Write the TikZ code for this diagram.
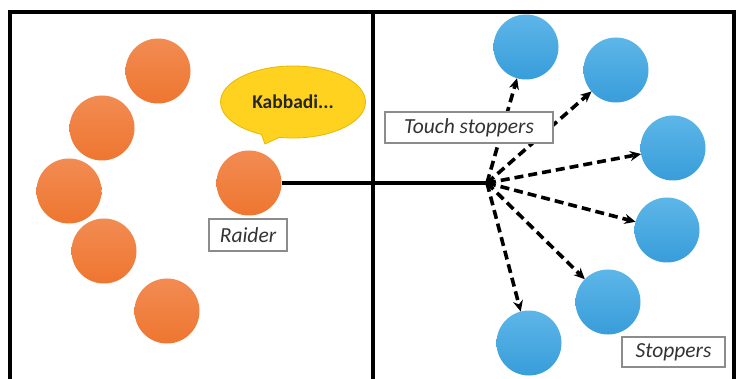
\documentclass[tikz,border=0pt]{standalone}
\usepackage{fontspec}
\setmainfont{Carlito}
\usetikzlibrary{arrows.meta,shapes.callouts,shapes.geometric}
\definecolor{orTop}{HTML}{F28B52}
\definecolor{orBot}{HTML}{EE7630}
\definecolor{blTop}{HTML}{5DB6E8}
\definecolor{blBot}{HTML}{389DDA}
\definecolor{bubble}{HTML}{FFD21F}
\definecolor{bubbleEdge}{HTML}{E8B800}
\definecolor{boxEdge}{HTML}{8C8C8C}
\begin{document}
\begin{tikzpicture}[x=1pt,y=-1pt,
  raiderball/.style={circle,minimum size=65pt,inner sep=0pt,outer sep=0pt,top color=orTop,bottom color=orBot},
  stopball/.style={circle,minimum size=65pt,inner sep=0pt,outer sep=0pt,top color=blTop,bottom color=blBot},
  labelbox/.style={draw=boxEdge,line width=1.3pt,fill=white,inner sep=0pt,font=\fontsize{21.5}{23}\selectfont\itshape,text=black!80},
  touch/.style={line width=3.6pt,dash pattern=on 9pt off 5pt,-{Stealth[length=11pt,width=10pt]}},
  frame/.style={line width=3.8pt,black}]
\useasboundingbox (0,0) rectangle (736,379);
% frame
\draw[frame] (10,381) -- (10,12) -- (734,12) -- (734,381);
\draw[frame] (373,12) -- (373,381);
% raiders
\node[raiderball] (o1) at (158,71) {};
\node[raiderball] (o2) at (102,128) {};
\node[raiderball] (o3) at (69,191) {};
\node[raiderball] (o4) at (104,251) {};
\node[raiderball] (o5) at (167,311) {};
\node[raiderball] (raider) at (249,183) {};
% speech bubble
\node[ellipse callout,fill=bubble,draw=bubbleEdge,line width=0.8pt,minimum width=145pt,minimum height=72pt,inner sep=0pt,
  callout absolute pointer={(265,144)},font=\fontsize{19.5}{21}\selectfont\bfseries,text=black!85] (bubble) at (293,102) {Kabbadi...};
\node[labelbox,minimum width=78pt,minimum height=32pt] (raiderlbl) at (248,235) {Raider};
% stoppers
\node[stopball] (s1) at (526,47) {};
\node[stopball] (s2) at (616,70) {};
\node[stopball] (s3) at (673,148) {};
\node[stopball] (s4) at (667,230) {};
\node[stopball] (s5) at (608,302) {};
\node[stopball] (s6) at (529,343) {};
\coordinate (hub) at (487,183);
\draw[line width=3.8pt] (raider) -- (hub);
\foreach \s in {s1,s2,s3,s4,s5,s6}{\draw[touch] (hub) -- (\s);}
\node[labelbox,minimum width=168pt,minimum height=31pt] (touchlbl) at (469,127.5) {Touch stoppers};
\node[labelbox,minimum width=103pt,minimum height=30pt] (stopperslbl) at (673.5,352) {Stoppers};
\end{tikzpicture}
\end{document}
